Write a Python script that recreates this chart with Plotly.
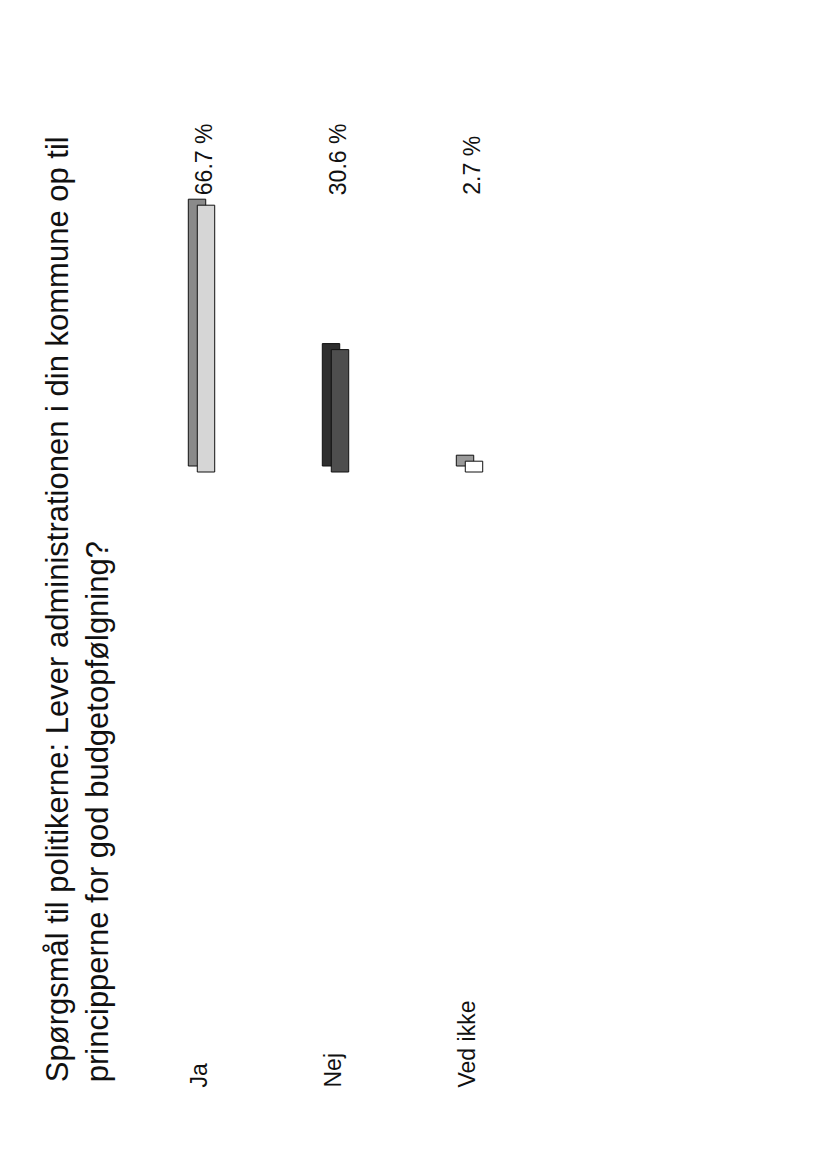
import plotly.graph_objects as go

# ---- data ----
categories = ["Ja", "Nej", "Ved ikke"]
values = [66.7, 30.6, 2.7]
value_labels = ["66.7 %", "30.6 %", "2.7 %"]
title_lines = ["Spørgsmål til politikerne: Lever administrationen i din kommune op til",
               "principperne for god budgetopfølgning?"]

front_colors = ["#d6d6d6", "#4e4e4e", "#ffffff"]
side_colors = ["#8a8a8a", "#2e2e2e", "#9a9a9a"]

FONT = "Liberation Sans, Arial, sans-serif"
x_idx = list(range(len(categories)))

bar_w = 0.13      # front face width (category units)
depth_x = 0.067   # side depth (category units)
depth_y = 1.5     # side depth (value units)

fig = go.Figure()
# back (depth) faces
fig.add_trace(go.Bar(
    x=x_idx, y=values, base=[depth_y] * len(values),
    width=bar_w, offset=-bar_w / 2 - depth_x,
    marker=dict(color=side_colors, line=dict(color="#111", width=1)),
    hoverinfo="skip", showlegend=False))
# front faces
fig.add_trace(go.Bar(
    x=x_idx, y=values,
    width=bar_w, offset=-bar_w / 2,
    marker=dict(color=front_colors, line=dict(color="#111", width=1)),
    showlegend=False))

annotations = []
label_y = max(values) * 1.03
for i, lab in enumerate(value_labels):
    annotations.append(dict(x=i, y=label_y, xref="x", yref="y", text=lab,
                            textangle=-90, showarrow=False, xanchor="center",
                            yanchor="bottom", xshift=-2,
                            font=dict(family=FONT, size=23, color="#111")))
for i, cat in enumerate(categories):
    annotations.append(dict(x=i, y=0.010, xref="x", yref="paper", text=cat,
                            textangle=-90, showarrow=False, xanchor="center",
                            yanchor="bottom", xshift=-8,
                            font=dict(family=FONT, size=23, color="#111")))
annotations.append(dict(x=-0.252, y=0.016, xref="paper", yref="paper",
                        text="<br>".join(title_lines), align="left",
                        textangle=-90, showarrow=False, xanchor="left",
                        yanchor="bottom",
                        font=dict(family=FONT, size=31, color="#111")))

fig.update_layout(
    width=825, height=1168,
    margin=dict(l=131, r=292, t=92, b=76),
    paper_bgcolor="white", plot_bgcolor="white",
    barmode="overlay",
    xaxis=dict(visible=False, range=[-0.5, 2.5]),
    yaxis=dict(visible=False, range=[-157, 93]),
    annotations=annotations,
    shapes=[dict(type="line", xref="paper", yref="paper",
                 x0=(811 - 131) / 402, x1=(811 - 131) / 402, y0=-0.07, y1=1.1,
                 line=dict(color="#b0b0b0", width=3, dash="dot"))],
)

fig.write_html("out.html")
